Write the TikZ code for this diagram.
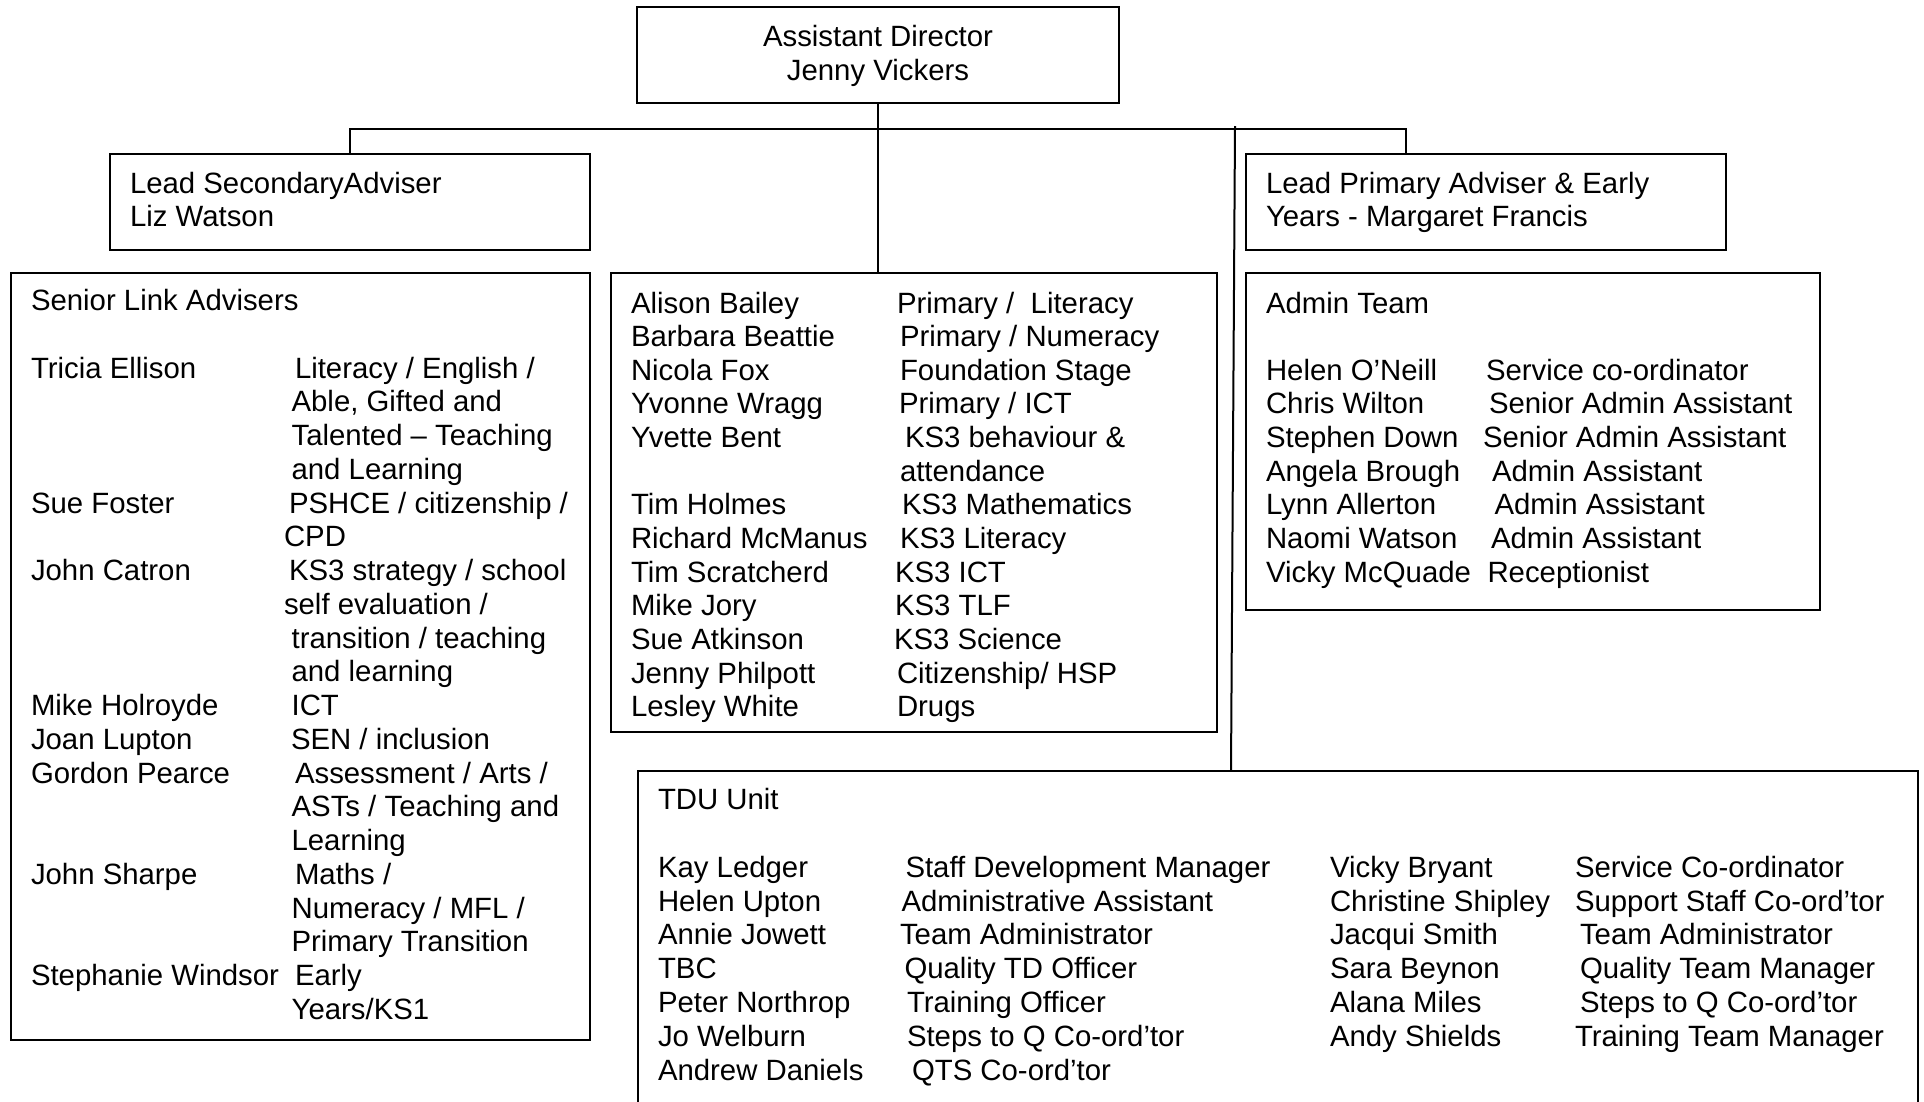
\documentclass[tikz,border=0pt]{standalone}
\usepackage{fontspec}
\setmainfont{Liberation Sans}
\begin{document}
\begin{tikzpicture}[x=1pt,y=-1pt,
  box/.style={draw, line width=2pt, rectangle, inner sep=0pt, outer sep=0pt},
  txt/.style={anchor=base west, inner sep=0pt, outer sep=0pt, font=\fontsize{29.35}{33.6}\selectfont},
  ctxt/.style={txt, anchor=base},
  link/.style={line width=2pt}]
\useasboundingbox (0,0) rectangle (1924,1101);
\clip (0,0) rectangle (1924,1101);
\fill[white] (0,0) rectangle (1924,1101);

% boxes
\node[box, minimum width=482pt, minimum height=96pt] (top) at (878,55) {};
\node[box, minimum width=480pt, minimum height=96pt] (lsec) at (350,202) {};
\node[box, minimum width=480pt, minimum height=96pt] (lpri) at (1486,202) {};
\node[box, minimum width=579pt, minimum height=767pt] (sla) at (300.5,656.5) {};
\node[box, minimum width=606pt, minimum height=459pt] (mid) at (914,502.5) {};
\node[box, minimum width=574pt, minimum height=337pt] (adm) at (1533,441.5) {};
\node[box, minimum width=1280pt, minimum height=349pt] (tdu) at (1278,945.5) {};

% connectors
\coordinate (hl) at (350,129);
\coordinate (hr) at (1406,129);
\coordinate (rvt) at (1235,126);
\coordinate (rvb) at (1231,771);
\draw[link] (top.south) -- (top.south |- mid.north);
\draw[link] (lsec.north) -- (hl) -- (hr) -- (hr |- lpri.north);
\draw[link] (rvt) -- (rvb);

% top box text
\node[ctxt] (t1) at (878,46) {Assistant Director};
\node[ctxt] (t2) at (878,80) {Jenny Vickers};

% lead boxes
\node[txt] (ls1) at (130,193) {Lead SecondaryAdviser};
\node[txt] (ls2) at (130,226.5) {Liz Watson};
\node[txt] (lp1) at (1266,193) {Lead Primary Adviser \& Early};
\node[txt] (lp2) at (1266,226.5) {Years - Margaret Francis};

% senior link advisers
\foreach \x/\n/\t [count=\i] in {
  31/0/{Senior Link Advisers},
  31/2/{Tricia Ellison},
  31/6/{Sue Foster},
  31/8/{John Catron},
  31/12/{Mike Holroyde},
  31/13/{Joan Lupton},
  31/14/{Gordon Pearce},
  31/17/{John Sharpe},
  31/20/{Stephanie Windsor}}
  \node[txt] (sn\i) at (\x,{310.5+33.75*\n}) {\t};
\foreach \x/\n/\t [count=\i] in {
  295/2/{Literacy / English /},
  291.6/3/{Able, Gifted and},
  291.6/4/{Talented – Teaching},
  291.6/5/{and Learning},
  289/6/{PSHCE / citizenship /},
  284/7/{CPD},
  289/8/{KS3 strategy / school},
  284/9/{self evaluation /},
  291.6/10/{transition / teaching},
  291.6/11/{and learning},
  291.6/12/{ICT},
  291/13/{SEN / inclusion},
  295/14/{Assessment / Arts /},
  291.6/15/{ASTs / Teaching and},
  291.6/16/{Learning},
  295/17/{Maths /},
  291.6/18/{Numeracy / MFL /},
  291.6/19/{Primary Transition},
  295/20/{Early},
  291.6/21/{Years/KS1}}
  \node[txt] (sr\i) at (\x,{310.5+33.75*\n}) {\t};

% middle box
\foreach \n/\t [count=\i] in {
  0/{Alison Bailey}, 1/{Barbara Beattie}, 2/{Nicola Fox}, 3/{Yvonne Wragg},
  4/{Yvette Bent}, 6/{Tim Holmes}, 7/{Richard McManus}, 8/{Tim Scratcherd},
  9/{Mike Jory}, 10/{Sue Atkinson}, 11/{Jenny Philpott}, 12/{Lesley White}}
  \node[txt] (mn\i) at (631,{313+33.65*\n}) {\t};
\foreach \x/\n/\t [count=\i] in {
  897/0/{Primary / \ Literacy},
  900/1/{Primary / Numeracy},
  900/2/{Foundation Stage},
  899/3/{Primary / ICT},
  905/4/{KS3 behaviour \&},
  900/5/{attendance},
  902/6/{KS3 Mathematics},
  900/7/{KS3 Literacy},
  895/8/{KS3 ICT},
  895/9/{KS3 TLF},
  894/10/{KS3 Science},
  897/11/{Citizenship/ HSP},
  897/12/{Drugs}}
  \node[txt] (mr\i) at (\x,{313+33.65*\n}) {\t};

% admin team
\node[txt] (at0) at (1266,313) {Admin Team};
\foreach \n/\t [count=\i] in {
  2/{Helen O’Neill}, 3/{Chris Wilton}, 4/{Stephen Down}, 5/{Angela Brough},
  6/{Lynn Allerton}, 7/{Naomi Watson}, 8/{Vicky McQuade}}
  \node[txt] (an\i) at (1266,{313+33.65*\n}) {\t};
\foreach \x/\n/\t [count=\i] in {
  1486/2/{Service co-ordinator},
  1489/3/{Senior Admin Assistant},
  1483/4/{Senior Admin Assistant},
  1492/5/{Admin Assistant},
  1494.5/6/{Admin Assistant},
  1491/7/{Admin Assistant},
  1487.5/8/{Receptionist}}
  \node[txt] (ar\i) at (\x,{313+33.65*\n}) {\t};

% TDU unit
\node[txt] (tu0) at (658,809.5) {TDU Unit};
\foreach \n/\t [count=\i] in {
  2/{Kay Ledger}, 3/{Helen Upton}, 4/{Annie Jowett}, 5/{TBC},
  6/{Peter Northrop}, 7/{Jo Welburn}, 8/{Andrew Daniels}}
  \node[txt] (un\i) at (658,{809.5+33.85*\n}) {\t};
\foreach \x/\n/\t [count=\i] in {
  905.5/2/{Staff Development Manager},
  901.5/3/{Administrative Assistant},
  900/4/{Team Administrator},
  904.5/5/{Quality TD Officer},
  907/6/{Training Officer},
  907/7/{Steps to Q Co-ord’tor},
  912/8/{QTS Co-ord’tor}}
  \node[txt] (ur\i) at (\x,{809.5+33.85*\n}) {\t};
\foreach \n/\t [count=\i] in {
  2/{Vicky Bryant}, 3/{Christine Shipley}, 4/{Jacqui Smith},
  5/{Sara Beynon}, 6/{Alana Miles}, 7/{Andy Shields}}
  \node[txt] (vn\i) at (1330,{809.5+33.85*\n}) {\t};
\foreach \x/\n/\t [count=\i] in {
  1575/2/{Service Co-ordinator},
  1575/3/{Support Staff Co-ord’tor},
  1580/4/{Team Administrator},
  1580/5/{Quality Team Manager},
  1580/6/{Steps to Q Co-ord’tor},
  1575/7/{Training Team Manager}}
  \node[txt] (vr\i) at (\x,{809.5+33.85*\n}) {\t};
\end{tikzpicture}
\end{document}
